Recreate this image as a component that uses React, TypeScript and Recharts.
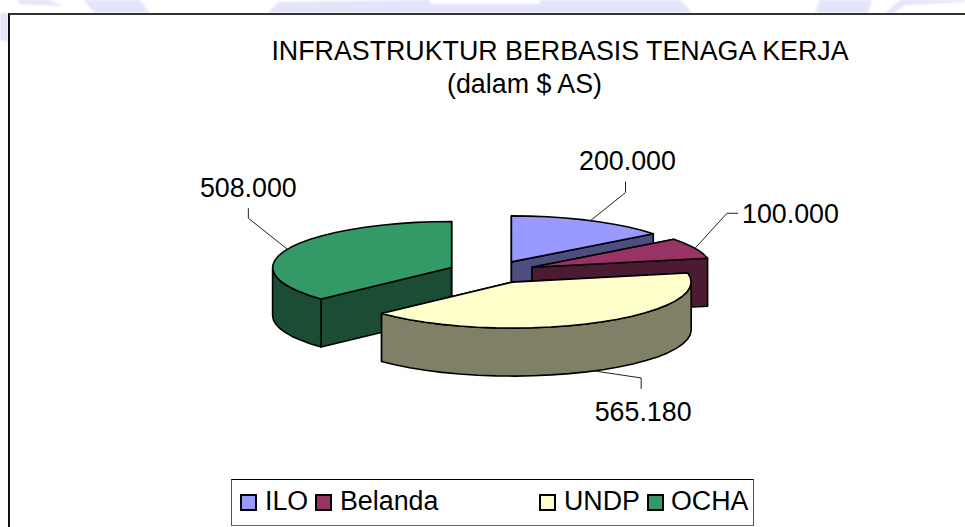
import React from 'react';
import { PieChart, Pie, Legend } from 'recharts';

const categories = ['ILO', 'Belanda', 'UNDP', 'OCHA'];
const values = [200000, 100000, 565180, 508000];
const topColors = ['#9999FF', '#993366', '#FFFFCC', '#339966'];
const sideColors = ['#4D4D80', '#4D1A33', '#808066', '#1A4D33'];
// painter's order: back slices first, rotated start keeps ILO at twelve o'clock
const drawOrder = [3, 0, 1, 2];
const titleLines = ['INFRASTRUKTUR BERBASIS TENAGA KERJA', '(dalam $ AS)'];

const W = 965;
const H = 527;
const CX = 492;
const CY = 272;
const RADIUS = 179;
const SQUASH = 0.257;
const DEPTH = 48;
const EXPLODE = 44;
const FONT = '"Liberation Sans", Arial, sans-serif';
const FS = 26.8;
const RAD = Math.PI / 180;

const total = values.reduce((a, b) => a + b, 0);
const startAngle = 90 + (360 * values[3]) / total;
const table = drawOrder.map((i) => ({
  name: categories[i],
  value: values[i],
  fill: topColors[i],
  side: sideColors[i],
  index: i,
}));

// leader geometry relative to the slice rim, by category order
const elbows = [
  { dx: 35, dy: -28, ex: 0, ey: -11, tx: 2, ty: -12, anchor: 'middle' },
  { dx: 32, dy: -35, ex: 11, ey: 0, tx: 4, ty: 10, anchor: 'start' },
  { dx: 47, dy: 7, ex: 0, ey: 11, tx: 2, ty: 32, anchor: 'middle' },
  { dx: -39, dy: -31, ex: 0, ey: -10, tx: 0, ty: -11, anchor: 'middle' },
];
const legendX = [8, 83, 307, 415];
const legendTextGap = [25, 25, 25, 24];

function pt(cx: number, cy: number, r: number, a: number, dz = 0) {
  return [cx + r * Math.cos(a * RAD), cy - r * SQUASH * Math.sin(a * RAD) + dz];
}
function apex(cx: number, cy: number, mid: number) {
  return [cx + EXPLODE * Math.cos(mid * RAD), cy - EXPLODE * SQUASH * Math.sin(mid * RAD)];
}
function toPath(points: number[][]) {
  return points.map((p, i) => `${i ? 'L' : 'M'}${p[0].toFixed(1)},${p[1].toFixed(1)}`).join('') + 'Z';
}
function arc(cx: number, cy: number, r: number, from: number, to: number, dz = 0) {
  const n = Math.max(2, Math.ceil(Math.abs(to - from) / 6));
  const out: number[][] = [];
  for (let i = 0; i <= n; i++) out.push(pt(cx, cy, r, from + ((to - from) * i) / n, dz));
  return out;
}

function Slice3D(props: any) {
  const { cx, cy, outerRadius: r, startAngle: s, endAngle: e, fill, payload } = props;
  const side = payload?.side ?? props.side;
  const mid = (s + e) / 2;
  const [ax, ay] = apex(cx, cy, mid);
  const sp = pt(ax, ay, r, s);
  const ep = pt(ax, ay, r, e);
  const wall = (p: number[]) =>
    toPath([[ax, ay], p, [p[0], p[1] + DEPTH], [ax, ay + DEPTH]]);
  // outer wall: the part of the rim lying on the front half of the ellipse
  const walls: React.ReactNode[] = [];
  const hi = Math.max(s, e);
  const lo = Math.min(s, e);
  for (let k = -2; k <= 1; k++) {
    const a = Math.max(lo, 180 + 360 * k);
    const b = Math.min(hi, 360 + 360 * k);
    if (b > a) {
      const top = arc(ax, ay, r, a, b);
      const bottom = arc(ax, ay, r, b, a, DEPTH);
      walls.push(<path key={k} d={toPath([...top, ...bottom])} fill={side} stroke="#000" strokeWidth={1.6} strokeLinejoin="round" />);
    }
  }
  return (
    <g>
      <path d={wall(sp)} fill={side} stroke="#000" strokeWidth={1.6} strokeLinejoin="round" />
      <path d={wall(ep)} fill={side} stroke="#000" strokeWidth={1.6} strokeLinejoin="round" />
      {walls}
      <path d={toPath([[ax, ay], ...arc(ax, ay, r, s, e)])} fill={fill} stroke="#000" strokeWidth={1.6} strokeLinejoin="round" />
    </g>
  );
}

function SliceLabel(props: any) {
  const { cx, cy, outerRadius: r, midAngle: mid, payload } = props;
  const i = payload.index;
  const el = elbows[i];
  const [ax, ay] = apex(cx, cy, mid);
  const front = Math.sin(mid * RAD) < 0 && i === 2;
  const rim = pt(ax, ay, r, mid, front ? DEPTH : 0);
  const bx = rim[0] + el.dx;
  const by = rim[1] + el.dy;
  const fx = bx + el.ex;
  const fy = by + el.ey;
  return (
    <g>
      <polyline points={`${rim[0]},${rim[1]} ${bx},${by} ${fx},${fy}`} fill="none" stroke="#222" strokeWidth={1} />
      <text x={fx + el.tx} y={fy + el.ty} textAnchor={el.anchor} fontFamily={FONT} fontSize={FS} fill="#000">
        {payload.value.toLocaleString('de-DE')}
      </text>
    </g>
  );
}

function LegendBox(props: any) {
  const byName: Record<string, any> = {};
  (props.payload || []).forEach((p: any) => { byName[p.value] = p; });
  return (
    <div style={{ position: 'relative', width: 523, height: 47, background: '#fff', borderStyle: 'solid', borderWidth: 1, borderColor: '#000 #555 #666 #555', boxSizing: 'border-box' }}>
      {categories.map((c, i) => (
        <React.Fragment key={c}>
          <span style={{ position: 'absolute', left: legendX[i], top: 14, width: 17, height: 17, boxSizing: 'border-box', border: '2px solid #000', background: byName[c]?.color ?? topColors[i] }} />
          <span style={{ position: 'absolute', left: legendX[i] + legendTextGap[i], top: 6, font: `${FS}px ${FONT}`, lineHeight: '30px', color: '#000', whiteSpace: 'nowrap' }}>{c}</span>
        </React.Fragment>
      ))}
    </div>
  );
}

const bands = [
  'M0,13 L8,13 L8,42 L0,40 Z',
  'M17,0 L50,0 L62,6 L20,4 Z',
  'M83,0 L140,0 L150,13 L95,13 Z',
  'M268,13 L278,2 L430,0 L430,4 L540,4 L540,0 L680,0 L692,13 Z',
  'M815,13 L820,0 L872,0 L868,13 Z',
  'M885,13 L900,0 L965,0 L965,2 L905,5 L895,13 Z',
];

export default function App() {
  return (
    <div style={{ position: 'absolute', left: 0, top: 0, width: W, height: H, overflow: 'hidden', background: '#fff' }}>
      <svg width={W} height={42} style={{ position: 'absolute', left: 0, top: 0, filter: 'blur(1px)' }}>
        {bands.map((d, i) => <path key={i} d={d} fill="#E4E4FA" />)}
      </svg>
      <div style={{ position: 'absolute', left: 8, top: 13, width: W, height: H, boxSizing: 'border-box', background: '#fff', borderLeft: '2px solid #111', borderTop: '2px solid #333' }} />
      <div style={{ position: 'absolute', left: 0, top: 0 }}>
        <PieChart width={W} height={H} margin={{ top: 0, right: 0, bottom: 0, left: 0 }}>
          <text x={560} y={60} textAnchor="middle" fontFamily={FONT} fontSize={FS} fill="#000">{titleLines[0]}</text>
          <text x={524.5} y={93} textAnchor="middle" fontFamily={FONT} fontSize={FS} fill="#000">{titleLines[1]}</text>
          <Pie
            data={table}
            dataKey="value"
            nameKey="name"
            cx={CX}
            cy={CY}
            outerRadius={RADIUS}
            startAngle={startAngle}
            endAngle={startAngle - 360}
            isAnimationActive={false}
            shape={Slice3D}
            label={SliceLabel}
            labelLine={false}
          />
          <Legend
            content={LegendBox}
            wrapperStyle={{ position: 'absolute', left: 231, top: 479, width: 523, height: 47, bottom: 'auto' }}
          />
        </PieChart>
      </div>
    </div>
  );
}
